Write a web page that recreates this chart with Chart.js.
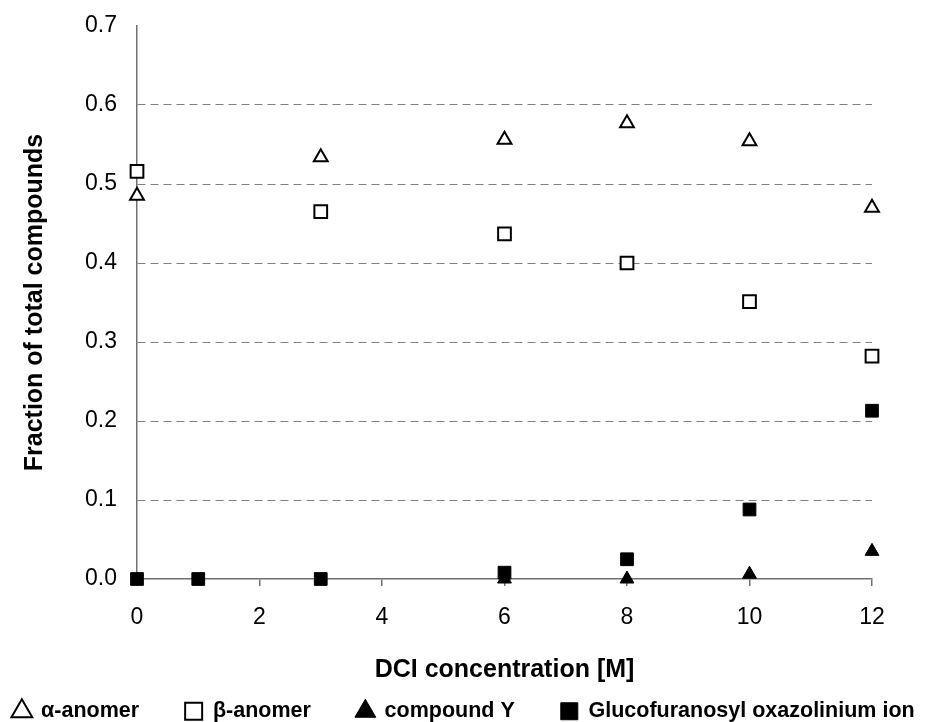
<!DOCTYPE html>
<html>
<head>
<meta charset="utf-8">
<script src="https://cdn.jsdelivr.net/npm/chart.js@4"></script>
<style>
  html, body { margin: 0; padding: 0; background: #fff; }
  #wrap { width: 928px; height: 722px; }
</style>
</head>
<body>
<div id="wrap"><canvas id="myChart" width="928" height="722"></canvas></div>
<script>
// data
const concentrations = [0, 3, 6, 8, 10, 12];
const alphaAnomer = [0.485, 0.534, 0.556, 0.577, 0.554, 0.470];
const betaAnomer = [0.516, 0.465, 0.437, 0.400, 0.351, 0.282];
const compoundYConc = [6, 8, 10, 12];
const compoundY = [0.0, 0.0, 0.006, 0.035];
const oxazConc = [0, 1, 3, 6, 8, 10, 12];
const oxazolinium = [0.0, 0.0, 0.0, 0.008, 0.025, 0.088, 0.213];
const xTicks = [0, 2, 4, 6, 8, 10, 12];
const seriesNames = ['\u03b1-anomer', '\u03b2-anomer', 'compound Y', 'Glucofuranosyl oxazolinium ion'];

const toPoints = (xs, ys) => xs.map((x, i) => ({x: x, y: ys[i]}));

const FONT = 'Arial, "Liberation Sans", sans-serif';
const AXIS = '#707070';

// keep the legend on one row even with the wide item spacing
const oneRowLegend = {
    id: 'oneRowLegend',
    beforeLayout: chart => {
        const lg = chart.legend;
        if (!lg || lg._oneRow) return;
        lg._oneRow = true;
        const fit = lg.fit;
        lg.fit = function () {
            const mw = this.maxWidth;
            this.maxWidth = mw + 300;
            fit.call(this);
            this.maxWidth = mw;
            this.width = Math.min(this.width, mw);
        };
        const draw = lg.draw;
        lg.draw = function () {
            this.left -= 150;
            this.right += 150;
            draw.call(this);
            this.left += 150;
            this.right -= 150;
        };
    }
};

const myChartRef = document.getElementById('myChart').getContext('2d');
new Chart(myChartRef, {
    type: 'scatter',
    data: {
        datasets: [
            {
                label: seriesNames[0],
                data: toPoints(concentrations, alphaAnomer),
                pointStyle: 'triangle',
                pointRadius: 8,
                backgroundColor: '#fff',
                borderColor: '#000',
                borderWidth: 2,
                clip: false,
                order: 4
            },
            {
                label: seriesNames[1],
                data: toPoints(concentrations, betaAnomer),
                pointStyle: 'rect',
                pointRadius: 9,
                backgroundColor: '#fff',
                borderColor: '#000',
                borderWidth: 2,
                clip: false,
                order: 3
            },
            {
                label: seriesNames[2],
                data: toPoints(compoundYConc, compoundY),
                pointStyle: 'triangle',
                pointRadius: 8,
                backgroundColor: '#000',
                borderColor: '#000',
                borderWidth: 1,
                clip: false,
                order: 2
            },
            {
                label: seriesNames[3],
                data: toPoints(oxazConc, oxazolinium),
                pointStyle: 'rect',
                pointRadius: 9,
                backgroundColor: '#000',
                borderColor: '#000',
                borderWidth: 1,
                clip: false,
                order: 1
            }
        ]
    },
    options: {
        responsive: false,
        animation: false,
        layout: { padding: { left: 0, right: 0, top: 26, bottom: -10 } },
        plugins: {
            tooltip: { enabled: false },
            legend: {
                position: 'bottom',
                labels: {
                    usePointStyle: true,
                    boxHeight: 17,
                    boxWidth: 17,
                    padding: 46,
                    color: '#000',
                    font: { family: FONT, size: 21.5, weight: 'bold' },
                    sort: (a, b) => a.datasetIndex - b.datasetIndex
                }
            }
        },
        scales: {
            x: {
                type: 'linear',
                min: 0,
                max: 12,
                afterBuildTicks: axis => { axis.ticks = xTicks.map(v => ({value: v})); },
                afterFit: axis => { axis.height = 75.5; },
                border: { color: AXIS, width: 1.5 },
                grid: { drawOnChartArea: false, drawTicks: true, tickLength: 7, color: AXIS, lineWidth: 1.5 },
                ticks: { color: '#000', padding: 18, font: { family: FONT, size: 23 } },
                title: {
                    display: true,
                    text: 'DCI concentration [M]',
                    color: '#000',
                    padding: { top: 0, bottom: -30.5 },
                    font: { family: FONT, size: 25, weight: 'bold' }
                }
            },
            y: {
                min: 0,
                max: 0.7,
                afterFit: axis => {
                    axis.width = 137;
                    axis.paddingTop = 0;
                    axis.paddingBottom = 0;
                },
                ticks: {
                    stepSize: 0.1,
                    color: '#000',
                    padding: 20,
                    font: { family: FONT, size: 23 },
                    callback: v => v.toFixed(1)
                },
                border: { color: AXIS, width: 1.5, dash: [8, 5] },
                grid: {
                    drawTicks: false,
                    color: ctx => (ctx.tick && ctx.tick.value > 0.01 && ctx.tick.value < 0.69) ? '#808080' : 'rgba(0,0,0,0)',
                    lineWidth: 1
                },
                title: {
                    display: true,
                    text: 'Fraction of total compounds',
                    color: '#000',
                    padding: { top: 20, bottom: 0 },
                    font: { family: FONT, size: 25, weight: 'bold' }
                }
            },
            yR: {
                position: 'right',
                min: 0,
                max: 0.7,
                afterFit: axis => { axis.width = 56; },
                ticks: { display: false },
                grid: { display: false },
                border: { display: false }
            }
        }
    },
    plugins: [oneRowLegend]
});
</script>
</body>
</html>
